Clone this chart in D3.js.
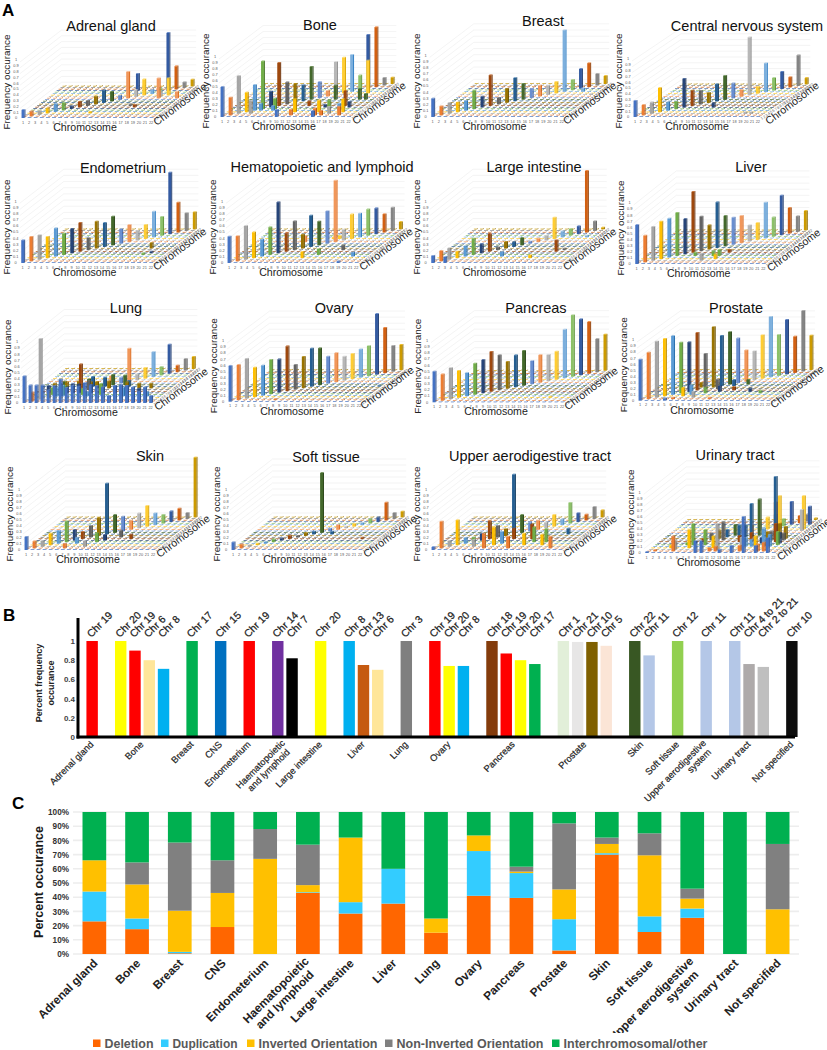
<!DOCTYPE html>
<html><head><meta charset="utf-8">
<script src="https://cdn.jsdelivr.net/npm/d3@7/dist/d3.min.js"></script>
<style>
html,body{margin:0;padding:0;background:#fff}
svg{display:block}
text{font-family:"Liberation Sans",Arial,sans-serif}
</style></head><body>
<div id="chart"></div>
<script>
// ---------- Panel A data: diagonal value per chromosome, then [chrX, chrDepth, value] off-diagonal bars
const chromosomes = d3.range(1,23);
const seriesColors = ["#4472C4","#ED7D31","#A5A5A5","#FFC000","#5B9BD5","#70AD47","#264478","#9E480E","#636363","#997300","#255E91","#43682B","#698ED0","#F1975A","#B7B7B7","#FFCD33","#7CAFDD","#8CC168","#335AA1","#D26012","#848484","#CC9A00"];

const adrenalDiag=[.14,.09,.07,.09,.14,.13,.05,.1,.09,.14,.22,.17,.08,.46,.12,.28,.08,.07,1,.4,.1,.12];
const adrenalExtra=[[14,19,.3],[19,14,.35],[20,16,.3],[22,14,.12],[19,15,.1],[16,16,.05],[16,9,.03],[17,8,.05],[11,4,.03]];
const boneDiag=[.5,.3,.63,.33,.43,.8,.27,.72,.37,.32,.27,.55,.27,.1,.55,.6,.62,.25,.9,1,.13,.11];
const boneExtra=[[20,16,.55],[16,12,.24],[5,3,.22],[10,1,.12],[16,1,.1],[12,2,.1],[16,2,.12],[17,2,.08],[20,2,.15],[12,4,.22],[16,4,.2],[20,4,.22],[8,6,.18],[17,6,.15],[19,8,.25],[13,8,.08],[16,7,.05],[20,7,.1],[6,5,.12],[8,5,.08],[21,12,.1],[19,5,.12],[20,12,.18],[18,3,.12]];
const breastDiag=[.3,.15,.18,.16,.16,.3,.18,.5,.11,.23,.38,.26,.15,.18,.15,.19,1,.17,.32,.39,.19,.13];
const breastExtra=[[13,17,.05],[20,17,.06],[22,15,.02]];
const cnsDiag=[.28,.18,.2,.42,.15,.13,.5,.27,.24,.18,.3,.42,.26,.12,1,.12,.5,.22,.3,.18,.53,.11];
const cnsExtra=[[12,7,.08],[19,3,.03],[20,3,.03]];
const endoDiag=[.37,.4,.4,.35,.46,.35,.4,.47,.2,.44,.39,.47,.24,.28,.16,.23,.42,.31,1,.49,.29,.28];
const endoExtra=[[19,10,.09],[19,6,.03],[20,7,.03]];
const hemaDiag=[.43,.41,.55,.42,.28,.45,.83,.3,.47,.23,.51,.39,.53,1,.18,.4,.39,.43,.42,.3,.38,.12];
const hemaExtra=[[12,4,.1],[14,6,.1],[13,16,.03],[14,16,.05],[19,1,.03],[17,9,.08],[9,14,.1],[20,5,.07]];
const lintDiag=[.12,.17,.19,.11,.17,.27,.15,.29,.05,.11,.08,.12,.04,.06,.08,.35,.1,.11,.13,1,.16,.03];
const lintExtra=[[3,1,.1],[11,5,.08],[19,8,.19],[16,4,.05],[20,9,.03],[21,17,.03]];
const liverDiag=[.64,.44,.56,.62,.64,.71,.58,1,.57,.4,.75,.5,.45,.45,.27,.28,.59,.32,.65,.42,.26,.32];
const liverExtra=[[11,3,.12],[12,6,.08],[9,6,.06],[13,6,.1],[14,8,.05],[13,4,.08]];
const lungDiag=[.44,.15,1,.1,.15,.15,.15,.45,.15,.11,.15,.17,.1,.55,.1,.18,.41,.14,.48,.11,.19,.2];
const lungExtra=[[2,1,.29],[3,1,.29],[4,1,.29],[5,1,.21],[6,1,.28],[7,1,.39],[8,1,.25],[9,1,.28],[10,1,.27],[11,1,.33],[12,1,.29],[13,1,.28],[14,1,.26],[15,1,.12],[16,1,.28],[17,1,.3],[18,1,.28],[19,1,.26],[20,1,.19],[21,1,.26],[22,1,.12],
[3,7,.12],[5,7,.15],[6,7,.1],[8,7,.15],[10,7,.14],[12,7,.1],[14,7,.12],[16,7,.12],[18,7,.08],[3,10,.08],[5,10,.1],[7,10,.12],[9,10,.1],[12,10,.12],[15,10,.1],[17,10,.08],[19,10,.08],[4,6,.12],[6,6,.1],[9,6,.1],[12,6,.18],[16,6,.08],[4,12,.06],[8,12,.1],[12,12,.1],[14,12,.16],[2,2,.07],[6,5,.18],[10,5,.08],[16,5,.15],[20,5,.08],[11,14,.1],[15,11,.1],[9,11,.16]];
const ovaryDiag=[.59,.58,.66,.49,.5,.57,.55,.74,.41,.52,.63,.61,.45,.48,.4,.42,.47,.5,1,.75,.43,.42];
const ovaryExtra=[[8,2,.02],[22,11,.02]];
const pancDiag=[.5,.43,.51,.44,.38,.51,.54,.65,.57,.44,.52,.57,.38,.45,.43,.46,.79,1,.91,.84,.54,.59];
const pancExtra=[[19,4,.02]];
const prosDiag=[.68,.77,.93,.95,.97,.84,.82,.95,.58,1,.83,.87,.74,.52,.48,.72,1,.68,.9,.6,1,.57];
const prosExtra=[[5,1,.04],[6,2,.03],[9,3,.1],[7,4,.14],[8,5,.16],[10,6,.1],[12,7,.1],[14,8,.06],[11,9,.16],[8,10,.08],[13,11,.1],[15,12,.08],[17,7,.06],[19,6,.05],[12,2,.03]];
const skinDiag=[.22,.12,.1,.2,.22,.35,.18,.12,.2,.3,.85,.3,.25,.15,.25,.35,.2,.15,.18,.2,.1,1];
const skinExtra=[[8,5,.1],[14,9,.12],[10,3,.1],[11,6,.15],[7,2,.08],[12,7,.1],[16,8,.08]];
const softDiag=[.13,.07,.03,.03,.03,.05,.04,.06,.03,.05,.05,1,.05,.08,.03,.05,.04,.08,.08,.3,.1,.1];
const softExtra=[[14,11,.05],[20,8,.03]];
const upperDiag=[.05,.45,.1,.42,.1,.08,.12,.3,.2,.12,1,.3,.15,.15,.1,.2,.1,.35,.15,.1,.2,.12];
const upperExtra=[[10,4,.3],[9,2,.25],[13,2,.2],[15,4,.2],[16,6,.25],[15,8,.25],[20,2,.2],[18,4,.18],[11,5,.2],[12,8,.18],[7,3,.12],[18,6,.22],[20,11,.1]];
const urinaryDiag=[.02,.03,0,.05,0,.04,.03,.05,.12,.14,.12,.18,.1,.12,.15,.2,.22,.12,.38,.12,.12,.03];
const urinaryExtra=[[19,11,1],[15,11,.55],[16,12,.6],[18,14,.5],[18,16,.55],[22,16,.55],[22,15,.35],[22,19,.3],[17,1,.6],[19,5,.3],[10,1,.2],[9,1,.2],[7,6,.35],[9,6,.25],[7,4,.3],[11,4,.2],[5,2,.25],[5,3,.15],[12,3,.43],[11,9,.3],[13,11,.2],[14,11,.2],[19,1,.12],[21,1,.25],[16,3,.2],[19,2,.12],[20,2,.15],[18,4,.2],[21,6,.22],[20,8,.3],[20,10,.25],[21,10,.2],[21,9,.12],[21,7,.18],[19,9,.15],[18,10,.12],[16,8,.15],[14,8,.1],[13,1,.06],[15,1,.12],[11,2,.06],[12,2,.08],[16,2,.1],[20,5,.2],[17,5,.12],[16,5,.15],[18,7,.1]];

const panelNames=["Adrenal gland","Bone","Breast","Central nervous system","Endometrium","Hematopoietic and lymphoid","Large intestine","Liver","Lung","Ovary","Pancreas","Prostate","Skin","Soft tissue","Upper aerodigestive tract","Urinary tract"];
const panelDiag=[adrenalDiag,boneDiag,breastDiag,cnsDiag,endoDiag,hemaDiag,lintDiag,liverDiag,lungDiag,ovaryDiag,pancDiag,prosDiag,skinDiag,softDiag,upperDiag,urinaryDiag];
const panelExtra=[adrenalExtra,boneExtra,breastExtra,cnsExtra,endoExtra,hemaExtra,lintExtra,liverExtra,lungExtra,ovaryExtra,pancExtra,prosExtra,skinExtra,softExtra,upperExtra,urinaryExtra];
const panelFrames=[ // x0,y0,dx,sx,sy,h,titleX,titleY
[23,118,6.1,1.95,1.5,58,111,31],[222,117,6.03,2.07,1.57,60,320,30],[432.7,117,6.14,2.07,1.57,61.7,543,26],[635,117,5.85,2.3,1.55,58,747,31],
[22.7,263,6.1,2.07,1.6,61.7,123,173],[229,263,6.06,2.1,1.6,61.7,322,172],[432.7,263,6.06,2.03,1.6,61.7,534,172],[636.7,264,6.03,2,1.6,61,751,172],
[24,403,6.03,2.03,1.62,61,126,313],[230,401.7,6.14,2,1.5,60.7,334,313],[434,402.3,6.1,2.04,1.5,61.7,536,313],[640,400.7,6.1,2.04,1.46,60.7,736,313],
[26,550,6.05,2,1.55,60,150,461],[233,550,6.05,2,1.55,60,326,462],[433,550,6.05,2,1.55,60,530,461],[646.7,553,6.03,2,1.57,60.7,735,460]];

// ---------- Panel B data
const bGroups=["Adrenal gland","Bone","Breast","CNS","Endometerium","Haematopoietic|and lymphoid","Large intestine","Liver","Lung","Ovary","Pancreas","Prostate","Skin","Soft tissue","Upper aerodigestive|system","Urinary tract","Not specified"];
const bLabels=[["Chr 19"],["Chr 20","Chr 19","Chr 6","Chr 8"],["Chr 17"],["Chr 15"],["Chr 19"],["Chr 14","Chr 7"],["Chr 20"],["Chr 8","Chr 13","Chr 6"],["Chr 3"],["Chr 19","Chr 20","Chr 8"],["Chr 18","Chr 19","Chr 20","Chr 17"],["Chr 1","Chr 21","Chr 10","Chr 5"],["Chr 22","Chr 11"],["Chr 12"],["Chr 11"],["Chr 11","Chr 4 to 21","Chr 2 to 21"],["Chr 10"]];
const bValues=[[1],[1,.9,.8,.71],[1],[1],[1],[1,.82],[1],[1,.75,.7],[1],[1,.74,.74],[1,.87,.8,.76],[1,.99,.99,.95],[1,.85],[1],[1],[1,.76,.73],[1]];
const bColors=[["#FF0000"],["#FFFF00","#FF0000","#FFE699","#00B0F0"],["#00B050"],["#0070C0"],["#FF0000"],["#7030A0","#000000"],["#FFFF00"],["#00B0F0","#C55A11","#FFE699"],["#7F7F7F"],["#FF0000","#FFFF00","#00B0F0"],["#843C0C","#FF0000","#FFFF00","#00B050"],["#E2EFD9","#E7E6E6","#7F6000","#FBE5D6"],["#385723","#B4C7E7"],["#92D050"],["#B4C7E7"],["#B4C7E7","#AEAAAA","#BFBFBF"],["#0D0D0D"]];
const bTicks=[0,.2,.4,.6,.8,1];

// ---------- Panel C data
const cCategories=["Adrenal gland","Bone","Breast","CNS","Endometerium","Haematopoietic|and lymphoid","Large intestine","Liver","Lung","Ovary","Pancreas","Prostate","Skin","Soft tissue","Upper aerodigestive|system","Urinary tract","Not specified"];
const cSeries=["Deletion","Duplication","Inverted Orientation","Non-Inverted Orientation","Interchromosomal/other"];
const cColors=["#FF6600","#33CCFF","#FFC000","#808080","#00B050"];
const deletion=[23,17.5,.5,19,0,43,28.5,35.5,15,41,39.5,2.5,70,15.5,25.5,0,0];
const duplication=[21,7.5,1,0,0,.5,8,24.5,0,31.5,17.5,22,1,11,6.5,0,0];
const inverted=[22,24,29,24,67,5,45.5,0,10,11,1,21,6.5,43,7,0,31.5];
const nonInverted=[0,15.5,48,23,21,28.5,0,0,0,0,3.5,46.5,4.5,15.5,7,0,46];
const inter=[34,35.5,21.5,34,12,23,18,40,75,16.5,38.5,8,18,15,54,100,22.5];
const cValues=[deletion,duplication,inverted,nonInverted,inter];
const cTicks=d3.range(0,101,10);

const svg=d3.select("#chart").append("svg").attr("width",827).attr("height",1050);

// ---------- Panel letters
[["A",2,16],["B",3,621],["C",12,809]].forEach(([t,x,y])=>svg.append("text").attr("x",x).attr("y",y).attr("font-size",17).attr("font-weight",700).text(t));

// ---------- Panel A
function shade(c,k){const h=d3.hsl(c);h.l=Math.min(1,h.l*k);return h.formatHex();}
panelNames.forEach((name,pi)=>{
  const [x0,y0,dx,sx,sy,h,tx,ty]=panelFrames[pi];
  const g=svg.append("g");
  const xS=d3.scaleLinear().domain([1,22]).range([x0,x0+21*dx]);
  const dS=d3.scaleLinear().domain([1,22]).range([0,21*sx]);
  const dY=d3.scaleLinear().domain([1,22]).range([0,21*sy]);
  const zS=d3.scaleLinear().domain([0,1]).range([0,h]);
  const bw=2.9, bs=1.0, br=.7;
  const L=x0-3, R=xS(22)+3.5, bk=22.3;
  const gridVals=d3.range(0,11).map(v=>v/10);
  gridVals.slice(1).forEach(v=>{
    const y=y0-zS(v);
    g.append("path").attr("fill","none").attr("stroke","#ececec").attr("stroke-width",.6)
     .attr("d",`M${L},${y+2}L${L+dS(bk)},${y+2-dY(bk)}L${R+dS(bk)},${y+2-dY(bk)}`);
  });
  const diag=panelDiag[pi], extra=panelExtra[pi];
  const cells=new Map();
  extra.forEach(([a,b,v])=>cells.set(a+"_"+b,v));
  diag.forEach((v,i)=>cells.set((i+1)+"_"+(i+1),v));
  [...chromosomes].reverse().forEach(d=>{
    chromosomes.forEach(x=>{
      const v=cells.get(x+"_"+d)||0;
      const px=xS(x)+dS(d)-bw/2, py=y0-dY(d);
      const c=seriesColors[d-1], ht=Math.max(zS(v),.7);
      g.append("path").attr("fill",c).attr("d",`M${px},${py}h${bw}v${-ht}h${-bw}Z`);
      g.append("path").attr("fill",shade(c,.72)).attr("d",`M${px+bw},${py}l${bs},${-br}v${-ht}l${-bs},${br}Z`);
      if(v>0) g.append("path").attr("fill",shade(c,1.15)).attr("d",`M${px},${py-ht}h${bw}l${bs},${-br}h${-bw}Z`);
    });
  });
  const small=g.append("g").attr("font-size",3.9).attr("fill","#595959");
  chromosomes.forEach(c=>small.append("text").attr("x",xS(c)).attr("y",y0+5.6).attr("text-anchor","middle").text(c));
  gridVals.forEach(v=>small.append("text").attr("x",x0-7).attr("y",y0-zS(v)+1.3).attr("text-anchor","middle").text(v===0?"0":(v===1?"1":v.toFixed(1))));
  chromosomes.forEach(c=>{
    const a=xS(22)+5+dS(c)-1, b=y0+3-dY(c);
    small.append("text").attr("transform",`translate(${a},${b}) rotate(-35)`).text(c);
  });
  g.append("text").attr("x",tx).attr("y",ty).attr("text-anchor","middle").attr("font-size",14.5).attr("fill","#111").text(name);
  g.append("text").attr("transform",`translate(${x0-16},${y0-36}) rotate(-90)`).attr("text-anchor","middle").attr("dy","0.35em").attr("font-size",9.9).attr("fill","#222").text("Frequency occurance");
  g.append("text").attr("x",x0+62).attr("y",y0+13).attr("text-anchor","middle").attr("font-size",10.6).attr("fill","#222").text("Chromosome");
  g.append("text").attr("transform",`translate(${x0+157},${y0-14}) rotate(-37)`).attr("text-anchor","middle").attr("dy","0.35em").attr("font-size",10.6).attr("fill","#222").text("Chromosome");
});

// ---------- Panel B
const bRows=[];let slot=0;const bGroupSlots=[];
bValues.forEach((vals,gi)=>{const st=slot;vals.forEach((v,i)=>{bRows.push({slot:slot,v:v,c:bColors[gi][i],l:bLabels[gi][i]});slot++;});bGroupSlots.push({gi:gi,center:(st+slot-1)/2});slot++;});
const bX=d3.scaleBand().domain(d3.range(0,50)).range([85,799]).paddingInner(.2).paddingOuter(.1);
const bCx=s=>bX(Math.floor(s))+bX.bandwidth()/2+(s-Math.floor(s))*bX.step();
const bY=d3.scaleLinear().domain([0,1]).range([737,641]);
const gb=svg.append("g");
gb.selectAll("rect").data(bRows).join("rect").attr("x",d=>bX(d.slot)).attr("width",bX.bandwidth()).attr("y",d=>bY(d.v)).attr("height",d=>bY(0)-bY(d.v)).attr("fill",d=>d.c);
gb.selectAll("text.lab").data(bRows).join("text").attr("class","lab").attr("font-size",10.4).attr("fill","#222").attr("stroke","#222").attr("stroke-width",.25)
  .attr("transform",d=>`translate(${bCx(d.slot)-1},${638}) rotate(-45)`).text(d=>d.l);
gb.append("line").attr("x1",78).attr("x2",78).attr("y1",618).attr("y2",738.5).attr("stroke","#000").attr("stroke-width",3);
gb.append("line").attr("x1",76.5).attr("x2",795).attr("y1",737).attr("y2",737).attr("stroke","#000").attr("stroke-width",3);
const bAxis=gb.append("g").attr("transform","translate(76,0)").call(d3.axisLeft(bY).tickValues(bTicks).tickSize(0).tickPadding(1).tickFormat(d=>d));
bAxis.select(".domain").remove();
bAxis.selectAll("text").attr("font-family",'"DejaVu Sans",sans-serif').attr("font-size",8).attr("font-weight",700).attr("fill","#444");
gb.append("text").attr("transform","translate(42,683) rotate(-90)").attr("text-anchor","middle").attr("font-size",9).attr("font-weight",700).attr("fill","#222").text("Percent frequency");
gb.append("text").attr("transform","translate(54,683) rotate(-90)").attr("text-anchor","middle").attr("font-size",9).attr("font-weight",700).attr("fill","#222").text("occurance");
bGroupSlots.forEach(o=>{
  const parts=bGroups[o.gi].split("|");
  const t=gb.append("text").attr("transform",`translate(${bCx(o.center)+2},${745}) rotate(-45)`).attr("text-anchor","end").attr("font-size",9.3).attr("fill","#222").attr("stroke","#222").attr("stroke-width",.2);
  parts.forEach((p,i)=>t.append("tspan").attr("x",i?-3:0).attr("dy",i?10:(parts.length>1?-2:0)).text(p));
});

// ---------- Panel C
const cX=d3.scaleBand().domain(d3.range(17)).range([73,799]).paddingInner(.445).paddingOuter(.2225);
const cY=d3.scaleLinear().domain([0,100]).range([954,812]);
const gc=svg.append("g");
cTicks.forEach(t=>gc.append("line").attr("x1",73).attr("x2",799).attr("y1",cY(t)).attr("y2",cY(t)).attr("stroke","#ededed").attr("stroke-width",1.6));
const stack=d3.stack().keys(d3.range(5)).value((d,k)=>cValues[k][d]);
const layers=stack(d3.range(17));
gc.selectAll("g.s").data(layers).join("g").attr("class","s").attr("fill",(d,i)=>cColors[i])
  .selectAll("rect").data((d)=>d.map((p,i)=>({p,i}))).join("rect")
  .attr("x",d=>cX(d.i)).attr("width",cX.bandwidth()).attr("y",d=>cY(d.p[1])).attr("height",d=>cY(d.p[0])-cY(d.p[1]));
const cAxis=gc.append("g").attr("transform","translate(69,0)").call(d3.axisLeft(cY).tickValues(cTicks).tickSize(0).tickPadding(0).tickFormat(d=>d+"%"));
cAxis.select(".domain").remove();
cAxis.selectAll("text").attr("font-family",'"Liberation Sans Narrow","Liberation Sans",sans-serif').attr("font-size",8.2).attr("font-weight",700).attr("fill","#333");
gc.append("text").attr("transform","translate(43,882) rotate(-90)").attr("text-anchor","middle").attr("font-size",12.5).attr("font-weight",700).attr("fill","#1a1a1a").text("Percent occurance");
cCategories.forEach((n,i)=>{
  const parts=n.split("|");
  const t=gc.append("text").attr("transform",`translate(${cX(i)+cX.bandwidth()/2+4},${964}) rotate(-45)`).attr("text-anchor","end").attr("font-size",11.8).attr("font-weight",700).attr("fill","#222");
  parts.forEach((p,k)=>t.append("tspan").attr("x",k?-6:0).attr("dy",k?13:(parts.length>1?-3:0)).text(p));
});
svg.append("rect").attr("x",0).attr("y",1033).attr("width",827).attr("height",17).attr("fill","#fff");
const legendX=[93,161,247,385,552];
const legendW=[49,65,119,147,144];
cSeries.forEach((s,i)=>{
  svg.append("rect").attr("x",legendX[i]).attr("y",1039.5).attr("width",7.5).attr("height",7.5).attr("fill",cColors[i]);
  svg.append("text").attr("x",legendX[i]+11.5).attr("y",1047.5).attr("font-family",'"Open Sans",sans-serif').attr("font-weight",600).attr("font-size",12).attr("fill","#595959").attr("textLength",legendW[i]).attr("lengthAdjust","spacingAndGlyphs").text(s);
});
</script>
</body></html>
